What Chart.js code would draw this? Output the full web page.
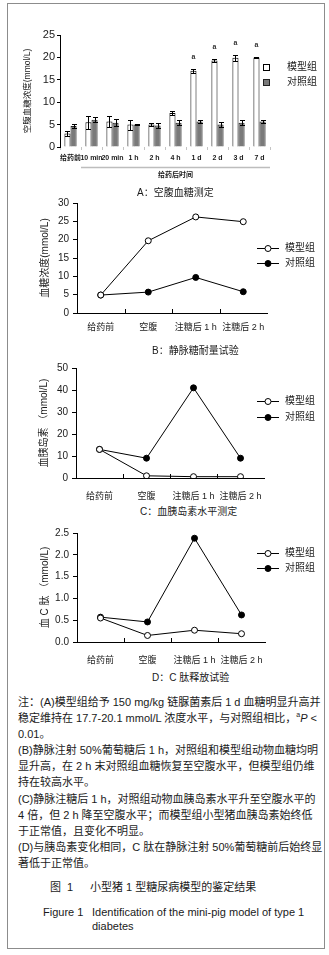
<!DOCTYPE html>
<html lang="zh">
<head>
<meta charset="UTF-8">
<title>图 1 小型猪 1 型糖尿病模型的鉴定结果</title>
<script src="https://cdn.jsdelivr.net/npm/chart.js"></script>
<style>
  body { margin: 0; background: #fff; }
  #page {
    position: relative; width: 329px; height: 955px; overflow: hidden;
    font-family: "Liberation Sans", Arial, "Noto Sans CJK SC", sans-serif; color: #1a1a1a;
  }
  .frame { position: absolute; left: 7px; top: 3px; width: 318px; height: 946px; box-sizing: border-box; border: 1px solid #8c8c8c; }
  canvas.chart { position: absolute; left: 0; }
  .cap { position: absolute; font-size: 10px; line-height: 12px; white-space: nowrap; }
  .notes { position: absolute; left: 18px; top: 694px; font-size: 11px; line-height: 16.1px; white-space: nowrap; }
  .fig { position: absolute; font-size: 11px; line-height: 14px; white-space: nowrap; }
</style>
</head>
<body>
<div id="page">
  <div class="frame"></div>

  <canvas id="chartA" class="chart" width="329" height="162" style="top:20px"></canvas>
  <canvas id="chartB" class="chart" width="329" height="150" style="top:190px"></canvas>
  <canvas id="chartC" class="chart" width="329" height="152" style="top:352px"></canvas>
  <canvas id="chartD" class="chart" width="329" height="150" style="top:518px"></canvas>

  <!-- captions under each panel -->
  <div class="cap" style="left:137px; top:187px">A：空腹血糖测定</div>
  <div class="cap" style="left:152px; top:345px">B：静脉糖耐量试验</div>
  <div class="cap" style="left:140px; top:506px">C：血胰岛素水平测定</div>
  <div class="cap" style="left:152px; top:672px">D：C 肽释放试验</div>

  <div class="notes">
    <div>注：(A)模型组给予 150 mg/kg 链脲菌素后 1 d 血糖明显升高并</div>
    <div>稳定维持在 17.7-20.1 mmol/L 浓度水平，与对照组相比，<sup style="font-size:7px;line-height:0">a</sup><i>P</i> &lt;</div>
    <div>0.01。</div>
    <div>(B)静脉注射 50%葡萄糖后 1 h，对照组和模型组动物血糖均明</div>
    <div>显升高，在 2 h 末对照组血糖恢复至空腹水平，但模型组仍维</div>
    <div>持在较高水平。</div>
    <div>(C)静脉注糖后 1 h，对照组动物血胰岛素水平升至空腹水平的</div>
    <div>4 倍，但 2 h 降至空腹水平；而模型组小型猪血胰岛素始终低</div>
    <div>于正常值，且变化不明显。</div>
    <div>(D)与胰岛素变化相同，C 肽在静脉注射 50%葡萄糖前后始终显</div>
    <div>著低于正常值。</div>
  </div>

  <div class="fig" style="left:50px; top:880px">图&nbsp;&nbsp;1</div>
  <div class="fig" style="left:90px; top:880px">小型猪 1 型糖尿病模型的鉴定结果</div>
  <div class="fig" style="left:43px; top:905px">Figure 1</div>
  <div class="fig" style="left:92px; top:905px">Identification of the mini-pig model of type 1<br>diabetes</div>
</div>

<script>
  // ---- data ----
  // A: fasting blood glucose (mmol/L), mean and error
  const timeLabels = ['给药前', '10 min', '20 min', '1 h', '2 h', '4 h', '1 d', '2 d', '3 d', '7 d'];
  const modelGlucose = [3.0, 5.5, 5.7, 5.0, 5.0, 7.6, 17.0, 19.3, 19.9, 20.0];
  const modelGlucoseErr = [0.6, 1.5, 1.3, 1.1, 0.4, 0.5, 0.5, 0.4, 0.6, 0.2];
  const controlGlucose = [4.7, 6.1, 5.4, 5.0, 4.8, 5.4, 5.7, 5.0, 5.4, 5.7];
  const controlGlucoseErr = [0.4, 0.6, 0.8, 0.2, 0.6, 0.6, 0.4, 0.6, 0.6, 0.4];
  const sigMarks = ['', '', '', '', '', '', 'a', 'a', 'a', 'a'];
  const afterDoseLabel = '给药后时间';

  // B, C, D share the same time points
  const testLabels = ['给药前', '空腹', '注糖后 1 h', '注糖后 2 h'];
  const modelIvgtt = [4.9, 19.7, 26.2, 24.9];
  const controlIvgtt = [4.9, 5.7, 9.7, 5.8];
  const modelInsulin = [13.0, 1.0, 0.6, 0.6];
  const controlInsulin = [13.0, 9.0, 41.0, 9.0];
  const modelCpep = [0.55, 0.15, 0.27, 0.19];
  const controlCpep = [0.57, 0.46, 2.38, 0.62];

  const groupNames = ['模型组', '对照组'];

  const FONT = "'Liberation Sans', Arial, 'Noto Sans CJK SC', sans-serif";
  Chart.defaults.font.family = FONT;
  Chart.defaults.color = '#1a1a1a';

  // legend drawn to the right of the plot
  const sideLegend = {
    id: 'sideLegend',
    afterDraw(chart, args, opts) {
      if (!opts.y) return;
      const ctx = chart.ctx;
      ctx.save();
      ctx.font = '10px ' + FONT;
      ctx.textBaseline = 'middle';
      chart.data.datasets.forEach((ds, i) => {
        const y = opts.y[i];
        ctx.lineWidth = 1;
        if (opts.type === 'box') {
          ctx.fillStyle = ds.backgroundColor;
          ctx.fillRect(opts.x - 3, y - 3, 7, 7);
          ctx.strokeStyle = ds.borderColor;
          ctx.strokeRect(opts.x - 2.5, y - 2.5, 6, 6);
        } else {
          ctx.strokeStyle = '#000';
          ctx.beginPath();
          ctx.moveTo(opts.x - 11, y + 0.5);
          ctx.lineTo(opts.x + 11, y + 0.5);
          ctx.stroke();
          ctx.beginPath();
          ctx.arc(opts.x, y + 0.5, 3, 0, Math.PI * 2);
          ctx.fillStyle = ds.pointBackgroundColor;
          ctx.fill();
          ctx.stroke();
        }
        ctx.fillStyle = '#1a1a1a';
        ctx.fillText(ds.label, opts.textX, y);
      });
      ctx.restore();
    }
  };

  // error bars + significance letters for panel A
  const errorBars = {
    id: 'errorBars',
    afterDatasetsDraw(chart, args, opts) {
      if (!opts.on) return;
      const ctx = chart.ctx;
      const yScale = chart.scales.y;
      const xScale = chart.scales.x;
      ctx.save();
      ctx.strokeStyle = '#000';
      ctx.lineWidth = 1;
      chart.data.datasets.forEach((ds, di) => {
        const meta = chart.getDatasetMeta(di);
        meta.data.forEach((bar, i) => {
          const v = ds.data[i], e = ds.errors[i];
          const x = Math.round(bar.x) + 0.5;
          const yt = Math.round(yScale.getPixelForValue(v + e)) + 0.5;
          const yb = Math.round(yScale.getPixelForValue(v - e)) + 0.5;
          ctx.beginPath();
          ctx.moveTo(x, yt); ctx.lineTo(x, yb);
          ctx.moveTo(x - 2.5, yt); ctx.lineTo(x + 2.5, yt);
          ctx.moveTo(x - 2.5, yb); ctx.lineTo(x + 2.5, yb);
          ctx.stroke();
        });
      });
      // "a" marks above the model bars
      const m0 = chart.getDatasetMeta(0);
      ctx.fillStyle = '#333';
      ctx.font = 'bold 7px ' + FONT;
      ctx.textAlign = 'center';
      ctx.textBaseline = 'middle';
      sigMarks.forEach((s, i) => {
        if (!s) return;
        ctx.fillText(s, m0.data[i].x, yScale.getPixelForValue(modelGlucose[i] + modelGlucoseErr[i] + 2.6));
      });
      // "给药后时间" bracket line under 10 min .. 7 d
      const half = (xScale.getPixelForValue(1) - xScale.getPixelForValue(0)) / 2;
      const x0 = xScale.getPixelForValue(1) - half;
      const x1 = xScale.getPixelForValue(timeLabels.length - 1) + half;
      const ly = chart.chartArea.bottom + 20.5;
      ctx.strokeStyle = '#bdbdbd';
      ctx.lineWidth = 1.5;
      ctx.beginPath();
      ctx.moveTo(x0, ly); ctx.lineTo(x1, ly);
      ctx.stroke();
      ctx.fillStyle = '#1a1a1a';
      ctx.fillText(afterDoseLabel, (x0 + x1) / 2, ly + 8);
      ctx.restore();
    }
  };

  // small upward tick marks between categories on the line charts
  const innerTicks = {
    id: 'innerTicks',
    afterDraw(chart, args, opts) {
      if (!opts.on) return;
      const ctx = chart.ctx, xs = chart.scales.x;
      const bottom = chart.chartArea.bottom;
      ctx.save();
      ctx.strokeStyle = '#000';
      ctx.lineWidth = 1;
      ctx.beginPath();
      for (let i = 1; i < chart.data.labels.length; i++) {
        const x = Math.round((xs.getPixelForValue(i - 1) + xs.getPixelForValue(i)) / 2) + 0.5;
        ctx.moveTo(x, bottom);
        ctx.lineTo(x, bottom - 4);
      }
      ctx.stroke();
      ctx.restore();
    }
  };

  Chart.register(sideLegend, errorBars, innerTicks);

  // ---- A: bar chart ----
  new Chart(document.getElementById('chartA'), {
    type: 'bar',
    data: {
      labels: timeLabels,
      datasets: [
        { label: groupNames[0], data: modelGlucose, errors: modelGlucoseErr,
          backgroundColor: '#ffffff', borderColor: '#000000', borderWidth: 1 },
        { label: groupNames[1], data: controlGlucose, errors: controlGlucoseErr,
          backgroundColor: '#7a7a7a', borderColor: '#222222', borderWidth: 1 }
      ]
    },
    options: {
      responsive: false,
      animation: false,
      events: [],
      layout: { padding: { top: 15, left: 20, right: 59, bottom: 0 } },
      datasets: { bar: { barPercentage: 1, categoryPercentage: 0.58 } },
      plugins: {
        legend: { display: false },
        tooltip: { enabled: false },
        sideLegend: { type: 'box', x: 266, textX: 287, y: [47, 62] },
        errorBars: { on: true }
      },
      scales: {
        x: {
          afterFit: s => { s.height = 35; },
          grid: { display: true, drawOnChartArea: false, offset: true, tickLength: 3, color: '#c4c4c4' },
          border: { display: false },
          ticks: { font: { size: 7, weight: 'bold' }, padding: 4, maxRotation: 0, autoSkip: false }
        },
        y: {
          min: 0, max: 25,
          afterFit: s => { s.width = 40; },
          title: { display: true, text: '空腹血糖浓度(mmol/L)', font: { size: 8.5 }, padding: { top: 3, bottom: 0 } },
          grid: { drawOnChartArea: false, tickLength: 3, color: '#000' },
          border: { color: '#000' },
          ticks: { stepSize: 5, font: { size: 11 }, padding: 2 }
        }
      }
    }
  });

  // ---- B, C, D: line charts ----
  function lineChart(id, modelData, controlData, cfg) {
    return new Chart(document.getElementById(id), {
      type: 'line',
      data: {
        labels: testLabels,
        datasets: [
          { label: groupNames[0], data: modelData, borderColor: '#000', borderWidth: 1,
            pointBackgroundColor: '#ffffff', pointBorderColor: '#000', pointBorderWidth: 1, pointRadius: 3, tension: 0 },
          { label: groupNames[1], data: controlData, borderColor: '#000', borderWidth: 1,
            pointBackgroundColor: '#000000', pointBorderColor: '#000', pointBorderWidth: 1, pointRadius: 3, tension: 0 }
        ]
      },
      options: {
        responsive: false,
        animation: false,
        events: [],
        layout: { padding: cfg.padding },
        plugins: {
          legend: { display: false },
          tooltip: { enabled: false },
          sideLegend: { type: 'line', x: 268, textX: 285, y: cfg.legendY },
          innerTicks: { on: true }
        },
        scales: {
          x: {
            offset: true,
            afterFit: s => { s.height = cfg.xHeight; },
            grid: { display: false, drawTicks: false },
            border: { display: true, color: '#000' },
            ticks: { font: { size: 9 }, padding: cfg.labelPad, maxRotation: 0, autoSkip: false }
          },
          y: {
            min: 0, max: cfg.max,
            afterFit: s => { s.width = cfg.yWidth; },
            title: { display: true, text: cfg.title, font: { size: 10 }, padding: { top: 0, bottom: 0 } },
            grid: { drawOnChartArea: false, tickLength: 4, color: '#000' },
            border: { color: '#000' },
            ticks: { stepSize: cfg.step, font: { size: 10 }, padding: 4, callback: cfg.fmt }
          }
        }
      }
    });
  }

  lineChart('chartB', modelIvgtt, controlIvgtt, {
    padding: { top: 13, left: 39, right: 62, bottom: 0 }, yWidth: 38, xHeight: 27, labelPad: 9,
    max: 30, step: 5, title: '血糖浓度(mmol/L)', legendY: [58, 73]
  });

  lineChart('chartC', modelInsulin, controlInsulin, {
    padding: { top: 16, left: 38, right: 65, bottom: 0 }, yWidth: 38, xHeight: 26, labelPad: 13,
    max: 50, step: 10, title: '血胰岛素 （mmol/L)', legendY: [49, 65]
  });

  lineChart('chartD', modelCpep, controlCpep, {
    padding: { top: 15, left: 39, right: 64, bottom: 0 }, yWidth: 38, xHeight: 26, labelPad: 13,
    max: 2.5, step: 0.5, title: '血 C 肽 （mmol/L)', legendY: [35, 50],
    fmt: v => v.toFixed(1)
  });
</script>
</body>
</html>
